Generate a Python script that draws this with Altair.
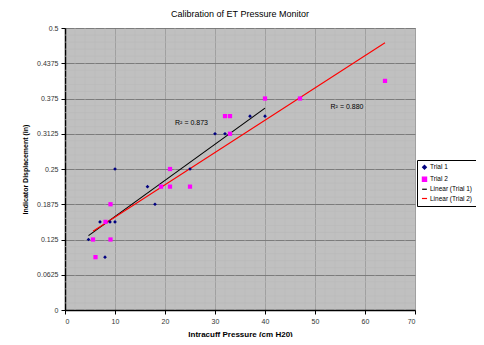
import altair as alt
import pandas as pd

# Trial 1 data
t1_x = [4.7, 7, 8, 9, 10, 10, 16.5, 18, 25, 30, 32, 37, 40]
t1_y = [0.125, 0.15625, 0.09375, 0.15625, 0.15625, 0.25, 0.21875, 0.1875, 0.25, 0.3125, 0.3125, 0.34375, 0.34375]
# Trial 2 data
t2_x = [5.6, 6.1, 8.1, 9.1, 9.1, 19.2, 21, 21, 25, 32, 33, 33, 40, 47, 64]
t2_y = [0.125, 0.09375, 0.15625, 0.1875, 0.125, 0.21875, 0.25, 0.21875, 0.21875, 0.34375, 0.34375, 0.3125, 0.375, 0.375, 0.40625]

series_names = ["Trial 1", "Trial 2", "Linear (Trial 1)", "Linear (Trial 2)"]
series_colors = ["#000080", "#FF00FF", "#000000", "#FF0000"]
series_shapes = ["diamond", "square", "stroke", "stroke"]

r2_labels = ["R² = 0.873", "R² = 0.880"]
r2_x = [25.3, 56.4]
r2_y = [0.331, 0.360]

x_major = [0, 10, 20, 30, 40, 50, 60, 70]
y_major = [0, 0.0625, 0.125, 0.1875, 0.25, 0.3125, 0.375, 0.4375, 0.5]
x_minor = [v for v in range(0, 71, 2) if v % 10 != 0]
y_minor = [round(i * 0.0125, 5) for i in range(41) if i % 5 != 0]

df = pd.DataFrame({
    "x": t1_x + t2_x,
    "y": t1_y + t2_y,
    "series": ["Trial 1"] * len(t1_x) + ["Trial 2"] * len(t2_x),
})
lab = pd.DataFrame({"x": r2_x, "y": r2_y, "t": r2_labels})

FONT = "Liberation Sans"

color = alt.Color("series:N", scale=alt.Scale(domain=series_names, range=series_colors),
                  legend=alt.Legend(title=None, orient="none", legendX=352, legendY=132,
                                    fillColor="white", strokeColor="#000000", padding=4,
                                    labelFontSize=6.5, labelFont=FONT, labelColor="#000000",
                                    symbolSize=30, rowPadding=2, labelLimit=80,
                                    symbolStrokeWidth=1.2, labelOffset=2))
shape = alt.Shape("series:N", scale=alt.Scale(domain=series_names, range=series_shapes),
                  legend=None)

x_scale = alt.Scale(domain=[0, 70], nice=False)
y_scale = alt.Scale(domain=[0, 0.5], nice=False)

x_axis = alt.Axis(values=x_major, title="Intracuff Pressure (cm H20)",
                  gridColor="#a0a0a0", gridWidth=1,
                  tickColor="#000", tickSize=4, domainColor="#000", domainWidth=1.5,
                  labelFontSize=7, labelColor="#333", labelFont=FONT, labelPadding=3,
                  titleFontSize=8, titleFont=FONT, titleFontWeight="bold", titleColor="#000",
                  titlePadding=6, labelOverlap=False)
y_axis = alt.Axis(values=y_major, title="Indicator Displacement (in)",
                  labelExpr="datum.value + ''",
                  gridColor="#7c7c7c", gridWidth=1.2,
                  tickColor="#000", tickSize=4, domainColor="#000", domainWidth=1.5,
                  labelFontSize=7, labelColor="#333", labelFont=FONT, labelPadding=3,
                  titleFontSize=7, titleFont=FONT, titleFontWeight="bold", titleColor="#000",
                  titlePadding=8, labelOverlap=False)


def X():
    return alt.X("x:Q", scale=x_scale, axis=x_axis)


def Y():
    return alt.Y("y:Q", scale=y_scale, axis=y_axis)


minor_v = alt.Chart(pd.DataFrame({"x": x_minor})).mark_rule(color="#b8b8b8", strokeWidth=0.6).encode(x=X())
minor_h = alt.Chart(pd.DataFrame({"y": y_minor})).mark_rule(color="#b8b8b8", strokeWidth=0.6).encode(y=Y())

base = alt.Chart(df)

points = base.mark_point(filled=True, opacity=1).encode(
    x=X(), y=Y(), color=color, shape=shape,
    size=alt.Size("series:N", scale=alt.Scale(domain=series_names, range=[14, 26, 20, 20]), legend=None),
)

lines = base.transform_regression("x", "y", groupby=["series"]).transform_calculate(
    series="'Linear (' + datum.series + ')'"
).mark_line(strokeWidth=1.1).encode(x=X(), y=Y(), color=alt.Color("series:N"))

texts = alt.Chart(lab).mark_text(fontSize=7, font=FONT, color="#000").encode(
    x=X(), y=Y(), text="t:N")

chart = alt.layer(minor_v, minor_h, lines, points, texts).properties(
    width=350, height=282,
    title=alt.TitleParams("Calibration of ET Pressure Monitor", fontSize=9, font=FONT,
                          fontWeight="normal", color="#000", offset=5),
    autosize=alt.AutoSizeParams(type="none"),
    padding={"left": 57, "top": 20, "right": 61, "bottom": 27},
).configure_view(fill="#C0C0C0", stroke="#808080", strokeWidth=1)

chart.save("out.html", embed_options={"renderer": "svg", "actions": False})
